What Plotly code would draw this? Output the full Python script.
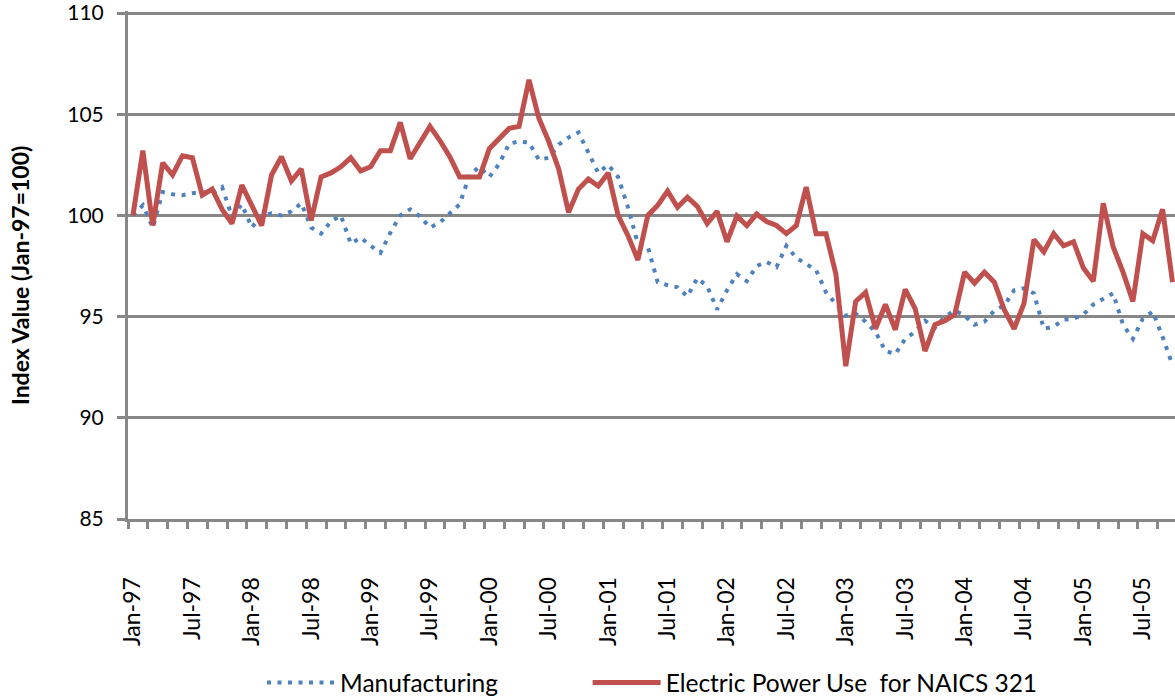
import plotly.graph_objects as go

# Monthly index values, Jan-97 .. Oct-05 (Jan-97 = 100)
manufacturing = [
    100.0, 100.5, 99.4, 101.15, 101.05, 101.0, 101.1, 101.15, 101.1, 101.4, 99.95, 100.55,
    99.4, 100.0, 100.1, 100.0, 100.2, 100.6, 99.4, 99.1, 99.7, 100.0, 98.6, 98.9,
    98.5, 98.15, 99.15, 100.0, 100.3, 99.95, 99.4, 99.65, 100.1, 100.55, 102.0, 102.4,
    101.9, 102.55, 103.55, 103.65, 103.6, 102.75, 102.85, 103.5, 103.85, 104.1, 103.1, 102.1,
    102.5, 101.9, 100.4, 98.6, 98.45, 96.7, 96.55, 96.45, 96.0, 96.9, 96.5, 95.35,
    96.3, 97.1, 96.75, 97.5, 97.7, 97.45, 98.5, 97.9, 97.6, 97.3, 96.2, 95.6,
    95.05, 95.15, 94.75, 94.25, 93.3, 93.15, 93.9, 94.25, 94.8, 94.45, 95.0, 95.3,
    95.05, 94.6, 94.75, 95.3, 95.55, 96.3, 96.4, 96.15, 94.4, 94.5, 94.85, 94.9,
    95.1, 95.6, 95.9, 96.15, 94.6, 93.9, 94.9, 95.25, 94.0, 92.6,
]

electric_power = [
    100.0, 103.2, 99.5, 102.6, 102.0, 102.95, 102.85, 101.0, 101.3, 100.3, 99.6, 101.5,
    100.5, 99.5, 102.0, 102.9, 101.7, 102.3, 99.75, 101.9, 102.1, 102.4, 102.85, 102.2,
    102.4, 103.2, 103.2, 104.6, 102.8, 103.65, 104.4, 103.7, 102.9, 101.9, 101.9, 101.9,
    103.3, 103.8, 104.3, 104.4, 106.7, 104.8, 103.65, 102.3, 100.15, 101.3, 101.8, 101.45,
    102.1, 100.0, 99.0, 97.8, 100.0, 100.5, 101.2, 100.4, 100.9, 100.45, 99.6, 100.2,
    98.7, 99.97, 99.5, 100.07, 99.7, 99.5, 99.1, 99.5, 101.4, 99.1, 99.1, 97.1,
    92.55, 95.75, 96.2, 94.4, 95.6, 94.35, 96.35, 95.4, 93.3, 94.6, 94.8, 95.1,
    97.2, 96.65, 97.2, 96.7, 95.35, 94.4, 95.65, 98.8, 98.2, 99.1, 98.5, 98.7,
    97.4, 96.75, 100.6, 98.45, 97.2, 95.75, 99.1, 98.75, 100.3, 96.7,
]

tick_labels = [
    "Jan-97", "Jul-97", "Jan-98", "Jul-98", "Jan-99", "Jul-99", "Jan-00", "Jul-00",
    "Jan-01", "Jul-01", "Jan-02", "Jul-02", "Jan-03", "Jul-03", "Jan-04", "Jul-04",
    "Jan-05", "Jul-05",
]
y_ticks = [85, 90, 95, 100, 105, 110]
label_step = 6  # months between labels

months = list(range(len(electric_power)))
tick_positions = [i * label_step for i in range(len(tick_labels))]
minor_ticks = [k - 0.5 for k in range(0, len(electric_power) + 1, 2)]

GRAY = "#878787"
FONT = "Lato, 'Open Sans', sans-serif"

fig = go.Figure()
fig.add_trace(go.Scatter(
    x=months, y=manufacturing, mode="lines", name="Manufacturing",
    line=dict(color="#4F81BD", width=4, dash="4px,6.5px"), legend="legend",
))
fig.add_trace(go.Scatter(
    x=months, y=electric_power, mode="lines", name="Electric Power Use  for NAICS 321",
    line=dict(color="#C0504D", width=5), legend="legend2",
))

legend_common = dict(
    orientation="h", yanchor="middle", y=-0.322, xanchor="left",
    font=dict(size=24.5, family=FONT), itemwidth=68, bgcolor="rgba(0,0,0,0)",
)

fig.update_layout(
    width=1175, height=698,
    margin=dict(l=128, r=0, t=11, b=179, autoexpand=False),
    paper_bgcolor="white", plot_bgcolor="white",
    font=dict(family=FONT, color="black", size=22),
    showlegend=True,
    legend=dict(x=0.128, **legend_common),
    legend2=dict(x=0.439, **legend_common),
    xaxis=dict(
        range=[-0.5, len(electric_power) - 0.75],
        tickmode="array", tickvals=tick_positions, ticktext=tick_labels,
        tickangle=-90, ticks="", ticklabelstandoff=46,
        tickfont=dict(size=23, family=FONT),
        showgrid=False, zeroline=False, automargin=False,
        showline=True, linecolor=GRAY, linewidth=3,
        minor=dict(tickmode="array", tickvals=minor_ticks, ticks="outside",
                   ticklen=7, tickwidth=3, tickcolor=GRAY, showgrid=False),
    ),
    yaxis=dict(
        range=[85, 110.1], tickmode="array", tickvals=y_ticks,
        ticks="outside", ticklen=8, tickwidth=3, tickcolor=GRAY,
        ticklabelstandoff=9, ticklabeloverflow="allow",
        tickfont=dict(size=21, family=FONT), automargin=False,
        showgrid=True, gridcolor=GRAY, gridwidth=3,
        zeroline=False, showline=True, linecolor=GRAY, linewidth=3,
    ),
    annotations=[dict(
        text="<b>Index Value (Jan-97=100)</b>", textangle=-90,
        xref="paper", yref="paper", x=(20 - 128) / 1047, y=(519 - 276) / 508,
        xanchor="center", yanchor="middle", showarrow=False,
        font=dict(size=23, family=FONT, color="black"),
    )],
)

fig.write_html("out.html", config={"displayModeBar": False},
               post_script="document.body.style.margin='0px';")
